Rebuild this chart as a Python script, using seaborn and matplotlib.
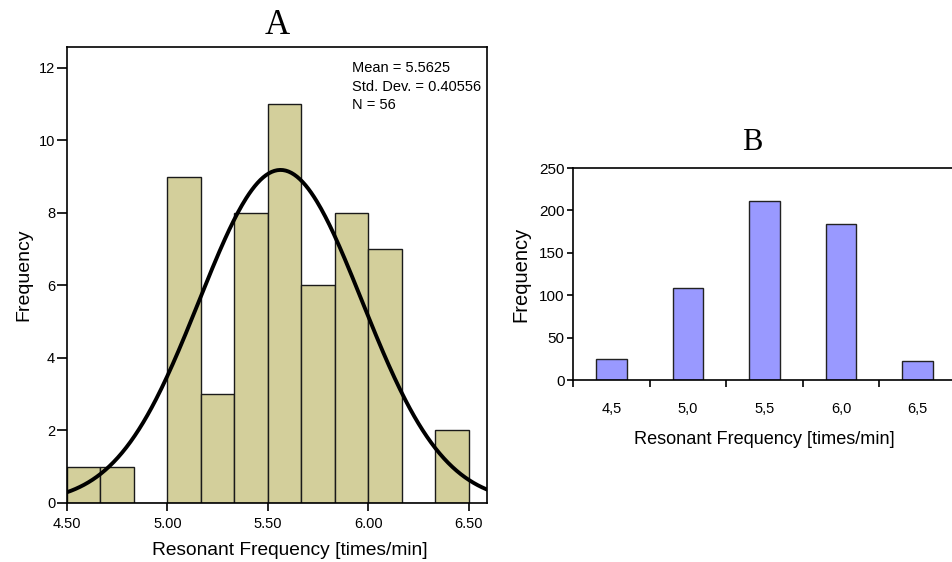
import numpy as np
import pandas as pd
import matplotlib
matplotlib.use("Agg")
import matplotlib.pyplot as plt
import seaborn as sns

# ---- Panel A data ----
bin_edges_a = list(np.linspace(4.5, 6.5, 13))
counts_a = [1, 1, 0, 9, 3, 8, 11, 6, 8, 7, 0, 2]
mean_a = 5.5625
sd_a = 0.40556
n_a = 56
xticks_a = [4.50, 5.00, 5.50, 6.00, 6.50]
yticks_a = [0, 2, 4, 6, 8, 10, 12]

# ---- Panel B data ----
cats_b = ["4,5", "5,0", "5,5", "6,0", "6,5"]
values_b = [25, 108, 211, 184, 22]
yticks_b = [0, 50, 100, 150, 200, 250]

sns.set_theme(style="ticks")
plt.rcParams['font.family'] = ['Liberation Sans', 'DejaVu Sans']
plt.rcParams.update({"text.color": "black", "axes.labelcolor": "black",
                     "xtick.color": "black", "ytick.color": "black",
                     "xtick.labelcolor": "black", "ytick.labelcolor": "black"})

fig = plt.figure(figsize=(9.52, 5.62), dpi=100)

# ---------------- Panel A ----------------
axA = fig.add_axes([67/952, 1-503/562, (487-67)/952, (503-47)/562])
edges = np.array(bin_edges_a)
centers_a = (edges[:-1] + edges[1:]) / 2
dfA = pd.DataFrame({"x": centers_a, "w": counts_a})
sns.histplot(data=dfA, x="x", weights="w", bins=bin_edges_a, ax=axA,
             color="#D3CF9B", edgecolor="#1a1a1a", linewidth=1.0, alpha=1)
xs = np.linspace(4.5, 6.6, 300)
binw = edges[1] - edges[0]
ys = n_a * binw * np.exp(-0.5 * ((xs - mean_a) / sd_a) ** 2) / (sd_a * np.sqrt(2 * np.pi))
sns.lineplot(x=xs, y=ys, ax=axA, color="black", linewidth=2.8)
axA.set_xlim(4.5, 6.59)
axA.set_ylim(0, 12.57)
axA.set_xticks(xticks_a)
axA.set_xticklabels([f"{v:.2f}" for v in xticks_a])
axA.set_yticks(yticks_a)
axA.tick_params(axis="y", direction="out", length=7, width=1.2, labelsize=10.5, color="black", pad=1.5)
axA.tick_params(axis="x", direction="out", length=6, width=1.2, labelsize=10.5, color="black", pad=4)
for s in axA.spines.values():
    s.set_visible(True)
    s.set_linewidth(1.2)
    s.set_color("black")
axA.set_xlabel("Resonant Frequency [times/min]", fontsize=13.8, labelpad=7)
axA.xaxis.set_label_coords((290-67)/420, -0.085)
axA.set_ylabel("Frequency", fontsize=14, labelpad=5)
axA.set_title("A", fontsize=25, family=["Liberation Serif", "DejaVu Serif"], pad=9)
axA.text(352/952, 1-61/562, f"Mean = {mean_a}\nStd. Dev. = {sd_a}\nN = {n_a}",
         transform=fig.transFigure, fontsize=10.5, va="top", ha="left", linespacing=1.42)

# ---------------- Panel B ----------------
axB = fig.add_axes([573/952, 1-380/562, (956-573)/952, (380-168)/562])
dfB = pd.DataFrame({"cat": cats_b, "val": values_b})
sns.barplot(data=dfB, x="cat", y="val", ax=axB, color="#9999FF", saturation=1,
            width=0.4, edgecolor="#222222", linewidth=1.0)
axB.set_xlim(-0.5, 4.5)
axB.set_ylim(0, 250)
axB.set_yticks(yticks_b)
axB.tick_params(axis="y", direction="out", length=4.5, width=1.2, labelsize=11, color="black", pad=1.5)
axB.tick_params(axis="x", which="major", length=0, labelsize=10.5, pad=16)
axB.set_xticks(np.arange(-0.5, 4.0, 1.0), minor=True)
axB.tick_params(axis="x", which="minor", direction="out", length=5, width=1.2, color="black")
for s in axB.spines.values():
    s.set_visible(True)
    s.set_linewidth(1.2)
    s.set_color("black")
axB.set_xlabel("Resonant Frequency [times/min]", fontsize=13.1, labelpad=11)
axB.set_ylabel("Frequency", fontsize=14.5, labelpad=6)
axB.set_title("B", fontsize=22, family=["Liberation Serif", "DejaVu Serif"], pad=13,
              x=(752-573)/383)

fig.savefig("out.png", dpi=100)
